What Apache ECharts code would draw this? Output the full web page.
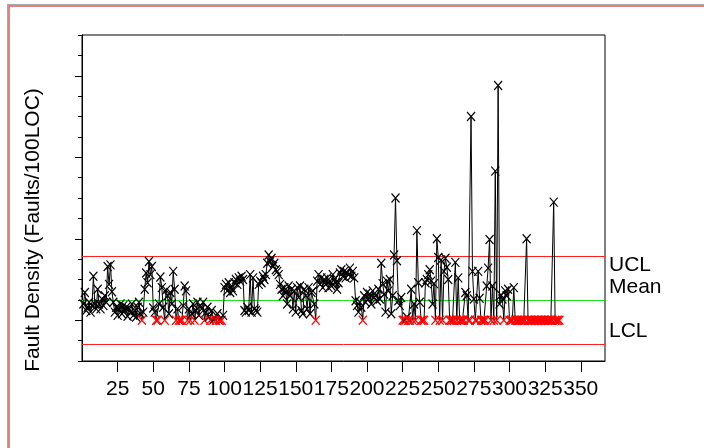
<!DOCTYPE html>
<html>
<head>
<meta charset="utf-8">
<script src="https://cdn.jsdelivr.net/npm/echarts@6/dist/echarts.min.js"></script>
<style>
  html, body { margin: 0; padding: 0; background: #fff; }
  #chart { position: absolute; left: 0; top: 0; width: 704px; height: 448px; }
  #frame { position: absolute; left: 7px; top: 4px; width: 720px; height: 460px;
           border-left: 1px solid #a8a8a8; border-top: 1px solid #a8a8a8; pointer-events: none; }
  #frame div { width: 100%; height: 100%; border-left: 2px solid #dc8484; border-top: 2px solid #dc8484; }
</style>
</head>
<body>
<div id="chart"></div>
<div id="frame"><div></div></div>
<script>
// fault density per sample (faults / 100 LOC), samples numbered from 1
const density = [
  0.20, 0.34, 0.12, 0.16, 0.22, 0.10, 0.18, 0.54, 0.20, 0.14,
  0.38, 0.20, 0.14, 0.26, 0.18, 0.30, 0.22, 0.66, 0.44, 0.68,
  0.35, 0.22, 0.10, 0.16, 0.06, 0.14, 0.20, 0.08, 0.18, 0.12,
  0.16, 0.05, 0.14, 0.10, 0.20, 0.06, 0.12, 0.04, 0.16, 0.22,
  0.08, 0, 0.10, 0.38, 0.58, 0.46, 0.72, 0.56, 0.66, 0.15,
  0.10, 0, 0, 0.20, 0.53, 0.40, 0.16, 0, 0.37, 0.30,
  0.08, 0.34, 0.20, 0.60, 0.38, 0, 0.14, 0, 0, 0,
  0.18, 0.42, 0.36, 0, 0.14, 0, 0.08, 0.20, 0, 0.12,
  0.22, 0.06, 0.18, 0.14, 0.22, 0, 0.10, 0.16, 0.04, 0,
  0.12, 0, 0.02, 0, 0.08, 0, 0, 0, 0.06, 0.40,
  0.44, 0.36, 0.46, 0.34, 0.40, 0.36, 0.46, 0.50, 0.44, 0.52,
  0.48, 0.54, 0.50, 0.12, 0.10, 0.16, 0.12, 0.56, 0.10, 0.52,
  0.14, 0.12, 0.10, 0.44, 0.48, 0.46, 0.54, 0.50, 0.56, 0.70,
  0.80, 0.72, 0.76, 0.66, 0.70, 0.62, 0.60, 0.56, 0.44, 0.38,
  0.30, 0.40, 0.34, 0.20, 0.42, 0.30, 0.38, 0.14, 0.36, 0.10,
  0.40, 0.28, 0.42, 0.12, 0.08, 0.38, 0.30, 0.14, 0.40, 0.08,
  0.34, 0.36, 0.20, 0, 0.48, 0.56, 0.44, 0.52, 0.40, 0.50,
  0.44, 0.52, 0.40, 0.48, 0.42, 0.56, 0.50, 0.46, 0.38, 0.46,
  0.58, 0.62, 0.54, 0.60, 0.52, 0.58, 0.56, 0.64, 0.54, 0.60,
  0.52, 0.24, 0.18, 0.10, 0.22, 0.16, 0, 0.30, 0.22, 0.34,
  0.26, 0.32, 0.20, 0.36, 0.28, 0.30, 0.24, 0.38, 0.26, 0.70,
  0.45, 0.32, 0.10, 0.48, 0.36, 0.50, 0.08, 0.30, 0.80, 1.50,
  0.73, 0.24, 0.18, 0.28, 0, 0, 0, 0.04, 0, 0,
  0.38, 0, 0.20, 0, 1.10, 0.46, 0.22, 0, 0, 0,
  0.46, 0.50, 0.56, 0.62, 0.48, 0.20, 0.45, 0, 1.00, 0.77,
  0, 0.74, 0, 0.60, 0.76, 0.65, 0.50, 0, 0, 0,
  0, 0.71, 0, 0.52, 0, 0, 0, 0, 0.34, 0.30,
  0, 0, 2.50, 0.60, 0.26, 0, 0, 0.60, 0.27, 0,
  0, 0, 0, 0.42, 0.64, 0.99, 0, 0.42, 0, 1.83,
  0, 2.88, 0.20, 0.31, 0.26, 0, 0.36, 0.30, 0.38, 0,
  0, 0, 0.40, 0, 0, 0, 0, 0, 0, 0,
  0, 1.00, 0, 0, 0, 0, 0, 0, 0, 0,
  0, 0, 0, 0, 0, 0, 0, 0, 0, 0,
  1.45, 0, 0, 0, 0
];
const samples = density.map((_, i) => i + 1);

// control limits
const controlNames = ['UCL', 'Mean', 'LCL'];
const controlValues = [0.79, 0.25, -0.30];
const controlColors = ['#ff2020', '#20e020', '#ff2020'];
const controlLabelOffsets = [9, -13, -13];

// axes
const xTicks = [25, 50, 75, 100, 125, 150, 175, 200, 225, 250, 275, 300, 325, 350];
const yMajorTicks = [0, 1, 2, 3];

const FONT = 'Liberation Sans, Arial, sans-serif';
const crossSymbol = 'path://M0,0 L10,12 M10,0 L0,12';

const chart = echarts.init(document.getElementById('chart'));

const points = samples.map((s, i) => {
  const v = density[i];
  const c = v === 0 ? '#ff0000' : '#000000';
  return { value: [s, v], itemStyle: { color: c, borderColor: c } };
});

const option = {
  animation: false,
  backgroundColor: 'transparent',
  grid: {
    left: 82, right: 99, top: 35, bottom: 87,
    show: true, borderColor: '#000', borderWidth: 1
  },
  xAxis: {
    type: 'value',
    min: 0,
    max: 367,
    axisLine: { onZero: false, lineStyle: { color: '#000', width: 1 } },
    axisTick: { customValues: xTicks, length: 11, lineStyle: { color: '#000' } },
    axisLabel: {
      customValues: xTicks, margin: 18,
      fontSize: 21, color: '#000', fontFamily: FONT
    },
    splitLine: { show: false }
  },
  yAxis: [
    {
      type: 'value',
      min: -0.5, max: 3.5, interval: 0.25,
      name: 'Fault Density (Faults/100LOC)',
      nameLocation: 'middle',
      nameGap: 38,
      nameTextStyle: { fontSize: 21, color: '#000', fontFamily: FONT, padding: [0, 64, 0, 0] },
      axisLine: { show: true, onZero: false, lineStyle: { color: '#000', width: 1 } },
      axisTick: { length: 4, lineStyle: { color: '#000' } },
      axisLabel: { show: false },
      splitLine: { show: false }
    },
    {
      type: 'value',
      min: -0.5, max: 3.5,
      position: 'left',
      axisLine: { show: false, onZero: false },
      axisTick: { customValues: yMajorTicks, length: 7, lineStyle: { color: '#000' } },
      axisLabel: { show: false },
      splitLine: { show: false }
    }
  ],
  series: [
    {
      type: 'line',
      data: points,
      showAllSymbol: true,
      symbol: crossSymbol,
      symbolSize: [8, 9],
      lineStyle: { color: '#000', width: 1 },
      itemStyle: { borderWidth: 1.2 },
      emphasis: { disabled: true },
      z: 3,
      markLine: {
        silent: true,
        symbol: 'none',
        z: 2,
        data: controlNames.map((n, i) => ({
          name: n,
          yAxis: controlValues[i],
          lineStyle: { color: controlColors[i], width: 1, type: 'solid' },
          label: {
            show: true, position: 'end', formatter: '{b}', distance: 4,
            offset: [0, controlLabelOffsets[i]],
            fontSize: 21, color: '#000', fontFamily: FONT
          }
        }))
      }
    }
  ]
};

chart.setOption(option);
</script>
</body>
</html>
